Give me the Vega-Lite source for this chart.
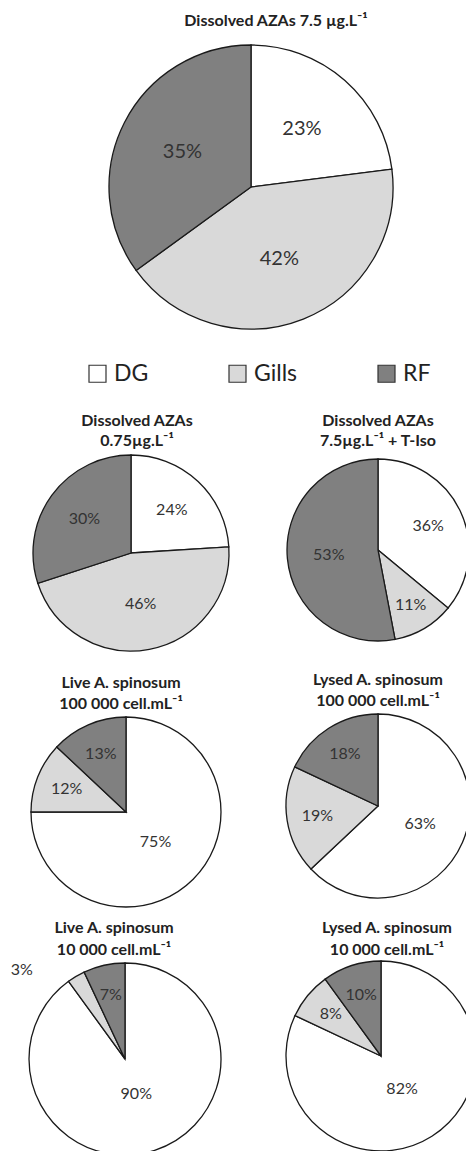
{
  "$schema": "https://vega.github.io/schema/vega-lite/v6.json",
  "padding": {"left": 0, "top": 13, "right": 0, "bottom": 0},
  "spacing": 10,
  "bounds": "full",
  "config": {
    "font": "Lato",
    "view": {"stroke": null},
    "title": {"font": "Lato", "fontSize": 16, "fontWeight": "bold", "color": "#222222", "baseline": "bottom", "frame": "group", "anchor": "middle"},
    "legend": {"layout": {"bottom": {"anchor": "middle"}}}
  },
  "resolve": {"scale": {"color": "independent"}},
  "datasets": {
    "pies": [
      {"pie": "big", "organ": "DG", "share": 0.23},
      {"pie": "big", "organ": "Gills", "share": 0.42},
      {"pie": "big", "organ": "RF", "share": 0.35},
      {"pie": "d075", "organ": "DG", "share": 0.24},
      {"pie": "d075", "organ": "Gills", "share": 0.46},
      {"pie": "d075", "organ": "RF", "share": 0.30},
      {"pie": "iso", "organ": "DG", "share": 0.36},
      {"pie": "iso", "organ": "Gills", "share": 0.11},
      {"pie": "iso", "organ": "RF", "share": 0.53},
      {"pie": "live100k", "organ": "DG", "share": 0.75},
      {"pie": "live100k", "organ": "Gills", "share": 0.12},
      {"pie": "live100k", "organ": "RF", "share": 0.13},
      {"pie": "lysed100k", "organ": "DG", "share": 0.63},
      {"pie": "lysed100k", "organ": "Gills", "share": 0.19},
      {"pie": "lysed100k", "organ": "RF", "share": 0.18},
      {"pie": "live10k", "organ": "DG", "share": 0.90},
      {"pie": "live10k", "organ": "Gills", "share": 0.03},
      {"pie": "live10k", "organ": "RF", "share": 0.07},
      {"pie": "lysed10k", "organ": "DG", "share": 0.82},
      {"pie": "lysed10k", "organ": "Gills", "share": 0.08},
      {"pie": "lysed10k", "organ": "RF", "share": 0.10}
    ]
  },
  "data": {"name": "pies"},
  "vconcat": [
    {
      "width": 502, "height": 284,
      "title": {"text": "Dissolved AZAs 7.5 µg.L⁻¹", "offset": 13, "dx": 25, "frame": "group"},
      "transform": [{"filter": "datum.pie == 'big'"}],
      "encoding": {
        "theta": {"field": "share", "type": "quantitative", "stack": true},
        "order": {"field": "organ", "type": "ordinal"}
      },
      "layer": [
        {
          "mark": {"type": "arc", "radius": 142, "stroke": "#1a1a1a", "strokeWidth": 1.3},
          "encoding": {
            "color": {
              "field": "organ", "type": "nominal",
              "scale": {"domain": ["DG", "Gills", "RF"], "range": ["#ffffff", "#d9d9d9", "#808080"]},
              "legend": {"orient": "bottom", "direction": "horizontal", "title": null, "offset": 16, "padding": 17,
                "symbolType": "square", "symbolSize": 289, "symbolStrokeColor": "#333333", "symbolStrokeWidth": 1.2,
                "symbolOffset": 15, "columnPadding": 62, "labelFontSize": 23, "labelFont": "Lato", "labelColor": "#222222", "labelOffset": 5}
            }
          }
        },
        {
          "mark": {"type": "text", "radius": 77, "fontSize": 20, "font": "Lato", "color": "#333333"},
          "encoding": {
            "text": {"field": "share", "type": "quantitative", "format": ".0%"}
          }
        }
      ]
    },
    {
      "hconcat": [
        {
          "width": 262, "height": 218,
          "title": {"text": ["Dissolved AZAs", "0.75µg.L⁻¹"], "lineHeight": 20, "offset": -5, "dx": 6, "frame": "group"},
          "transform": [{"filter": "datum.pie == 'd075'"}],
          "encoding": {
            "theta": {"field": "share", "type": "quantitative", "stack": true},
            "order": {"field": "organ", "type": "ordinal"}
          },
          "layer": [
            {"mark": {"type": "arc", "radius": 98, "stroke": "#1a1a1a", "strokeWidth": 1.3},
             "encoding": {"color": {"field": "organ", "type": "nominal", "scale": {"domain": ["DG", "Gills", "RF"], "range": ["#ffffff", "#d9d9d9", "#808080"]}, "legend": null}}},
            {"mark": {"type": "text", "fontSize": 16, "font": "Lato", "color": "#333333"},
             "encoding": {
               "radius": {"field": "share", "type": "quantitative", "scale": {"type": "linear", "domain": [0, 1], "range": [68, 33]}},
               "text": {"field": "share", "type": "quantitative", "format": ".0%"}}}
          ]
        },
        {
          "width": 232, "height": 212,
          "title": {"text": ["Dissolved AZAs", "7.5µg.L⁻¹ + T-Iso"], "lineHeight": 20, "offset": -5, "dx": 0, "frame": "group"},
          "transform": [{"filter": "datum.pie == 'iso'"}],
          "encoding": {
            "theta": {"field": "share", "type": "quantitative", "stack": true},
            "order": {"field": "organ", "type": "ordinal"}
          },
          "layer": [
            {"mark": {"type": "arc", "radius": 91, "stroke": "#1a1a1a", "strokeWidth": 1.3},
             "encoding": {"color": {"field": "organ", "type": "nominal", "scale": {"domain": ["DG", "Gills", "RF"], "range": ["#ffffff", "#d9d9d9", "#808080"]}, "legend": null}}},
            {"mark": {"type": "text", "fontSize": 16, "font": "Lato", "color": "#333333"},
             "encoding": {
               "radius": {"field": "share", "type": "quantitative", "scale": {"type": "linear", "domain": [0, 1], "range": [68, 33]}},
               "text": {"field": "share", "type": "quantitative", "format": ".0%"}}}
          ]
        }
      ],
      "spacing": 0,
      "bounds": "full"
    },
    {
      "hconcat": [
        {
          "width": 252, "height": 192,
          "title": {"text": ["Live A. spinosum", "100 000 cell.mL⁻¹"], "lineHeight": 21, "offset": 2, "dx": -5, "frame": "group"},
          "transform": [{"filter": "datum.pie == 'live100k'"}],
          "encoding": {
            "theta": {"field": "share", "type": "quantitative", "stack": true},
            "order": {"field": "organ", "type": "ordinal"}
          },
          "layer": [
            {"mark": {"type": "arc", "radius": 95, "stroke": "#1a1a1a", "strokeWidth": 1.3},
             "encoding": {"color": {"field": "organ", "type": "nominal", "scale": {"domain": ["DG", "Gills", "RF"], "range": ["#ffffff", "#d9d9d9", "#808080"]}, "legend": null}}},
            {"mark": {"type": "text", "fontSize": 16, "font": "Lato", "color": "#333333"},
             "encoding": {
               "radius": {"field": "share", "type": "quantitative", "scale": {"type": "linear", "domain": [0, 1], "range": [68, 33]}},
               "text": {"field": "share", "type": "quantitative", "format": ".0%"}}}
          ]
        },
        {
          "width": 252, "height": 180,
          "title": {"text": ["Lysed A. spinosum", "100 000 cell.mL⁻¹"], "lineHeight": 21, "offset": 2, "dx": 0, "frame": "group"},
          "transform": [{"filter": "datum.pie == 'lysed100k'"}],
          "encoding": {
            "theta": {"field": "share", "type": "quantitative", "stack": true},
            "order": {"field": "organ", "type": "ordinal"}
          },
          "layer": [
            {"mark": {"type": "arc", "radius": 92, "stroke": "#1a1a1a", "strokeWidth": 1.3},
             "encoding": {"color": {"field": "organ", "type": "nominal", "scale": {"domain": ["DG", "Gills", "RF"], "range": ["#ffffff", "#d9d9d9", "#808080"]}, "legend": null}}},
            {"mark": {"type": "text", "fontSize": 16, "font": "Lato", "color": "#333333"},
             "encoding": {
               "radius": {"field": "share", "type": "quantitative", "scale": {"type": "linear", "domain": [0, 1], "range": [68, 33]}},
               "text": {"field": "share", "type": "quantitative", "format": ".0%"}}}
          ]
        }
      ],
      "spacing": 0,
      "bounds": "full"
    },
    {
      "hconcat": [
        {
          "width": 250, "height": 206,
          "title": {"text": ["Live A. spinosum", "10 000 cell.mL⁻¹"], "lineHeight": 22, "offset": -2, "dx": -11, "frame": "group"},
          "transform": [{"filter": "datum.pie == 'live10k'"}],
          "encoding": {
            "theta": {"field": "share", "type": "quantitative", "stack": true},
            "order": {"field": "organ", "type": "ordinal"}
          },
          "layer": [
            {"mark": {"type": "arc", "radius": 96, "stroke": "#1a1a1a", "strokeWidth": 1.3},
             "encoding": {"color": {"field": "organ", "type": "nominal", "scale": {"domain": ["DG", "Gills", "RF"], "range": ["#ffffff", "#d9d9d9", "#808080"]}, "legend": null}}},
            {"mark": {"type": "text", "fontSize": 16, "font": "Lato", "color": "#333333"},
             "encoding": {
               "radius": {"field": "share", "type": "quantitative", "scale": {"type": "linear", "domain": [0, 1], "range": [68, 33]}},
               "text": {"field": "share", "type": "quantitative", "format": ".0%", "condition": {"test": "datum.share < 0.05", "value": ""}}}},
            {"mark": {"type": "text", "align": "right", "dx": -32, "dy": 13, "fontSize": 16, "font": "Lato", "color": "#333333"},
             "encoding": {
               "radius": {"field": "share", "type": "quantitative", "scale": {"type": "linear", "domain": [0.03, 0.07], "range": [118, 0], "clamp": true}},
               "text": {"field": "share", "type": "quantitative", "format": ".0%", "condition": {"test": "datum.share >= 0.05", "value": ""}}}}
          ],
          "resolve": {"scale": {"radius": "independent"}}
        },
        {
          "width": 262, "height": 200,
          "title": {"text": ["Lysed  A. spinosum", "10 000 cell.mL⁻¹"], "lineHeight": 22, "offset": -2, "dx": 6, "frame": "group"},
          "transform": [{"filter": "datum.pie == 'lysed10k'"}],
          "encoding": {
            "theta": {"field": "share", "type": "quantitative", "stack": true},
            "order": {"field": "organ", "type": "ordinal"}
          },
          "layer": [
            {"mark": {"type": "arc", "radius": 95, "stroke": "#1a1a1a", "strokeWidth": 1.3},
             "encoding": {"color": {"field": "organ", "type": "nominal", "scale": {"domain": ["DG", "Gills", "RF"], "range": ["#ffffff", "#d9d9d9", "#808080"]}, "legend": null}}},
            {"mark": {"type": "text", "fontSize": 16, "font": "Lato", "color": "#333333"},
             "encoding": {
               "radius": {"field": "share", "type": "quantitative", "scale": {"type": "linear", "domain": [0, 1], "range": [68, 33]}},
               "text": {"field": "share", "type": "quantitative", "format": ".0%"}}}
          ]
        }
      ],
      "spacing": 0,
      "bounds": "full",
      "resolve": {"scale": {"radius": "independent"}}
    }
  ]
}
